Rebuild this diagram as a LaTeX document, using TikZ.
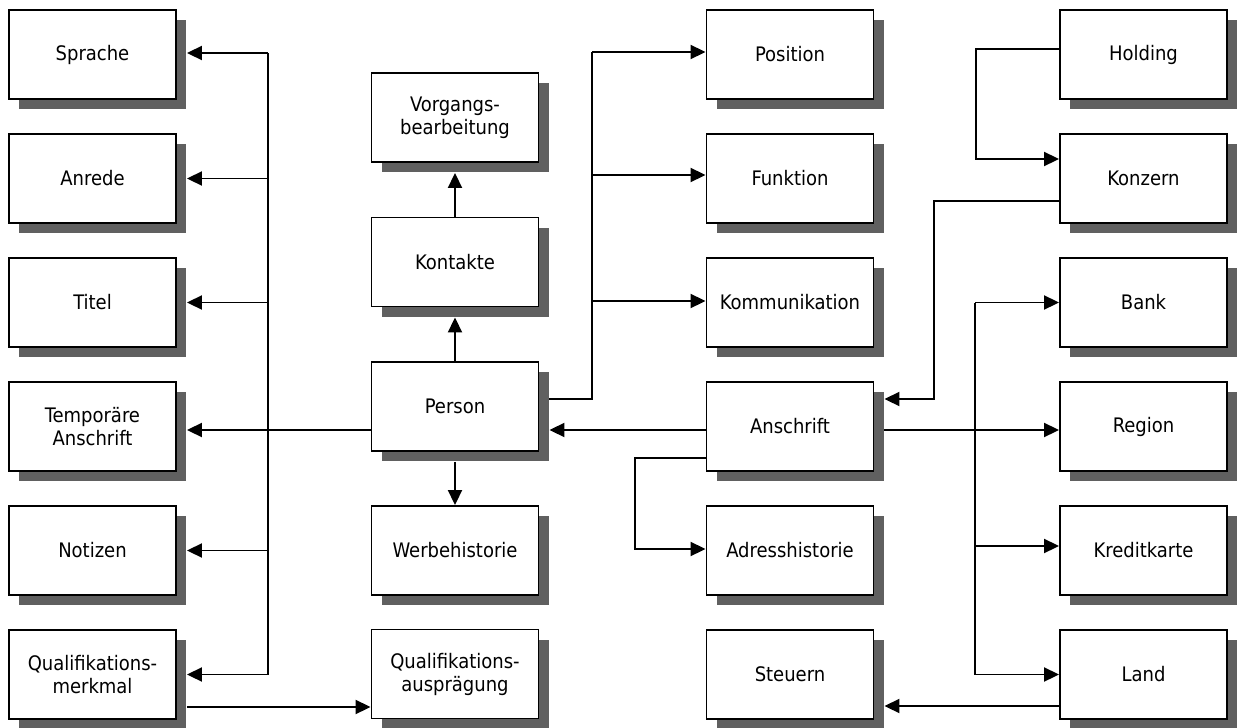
\documentclass[tikz,border=0pt]{standalone}
\usepackage{fontspec}
\setmainfont{DejaVu Sans Condensed}
\usetikzlibrary{arrows.meta,calc,shadows}
\definecolor{shadowgray}{RGB}{96,96,96}
\tikzset{
  ent/.style={draw, line width=1.9pt, fill=white, minimum width=167pt, minimum height=89pt,
    inner sep=0pt, align=center, font=\fontsize{20}{23}\selectfont,
    general shadow={fill=shadowgray, shadow xshift=10pt, shadow yshift=-10pt}},
  conn/.style={line width=1.9pt},
  arr/.style={conn, -{Triangle[length=15pt,width=14pt]}},
}
\begin{document}
\begin{tikzpicture}[x=1pt,y=-1pt]
\useasboundingbox (0,0) rectangle (1240,728);
% left column
\node[ent] (sprache) at (92.5,54.5) {Sprache};
\node[ent] (anrede)  at (92.5,178.5) {Anrede};
\node[ent] (titel)   at (92.5,302.5) {Titel};
\node[ent] (temp)    at (92.5,426.5) {Temporäre\\Anschrift};
\node[ent] (notizen) at (92.5,550.5) {Notizen};
\node[ent] (qm)      at (92.5,674.5) {Qualifikations-\\merkmal};
% centre column
\node[ent] (vorgang)  at (455,117.5) {Vorgangs-\\bearbeitung};
\node[ent] (kontakte) at (455,262) {Kontakte};
\node[ent] (person)   at (455,406.5) {Person};
\node[ent] (werbe)    at (455,550.5) {Werbehistorie};
\node[ent] (qa)       at (455,674) {Qualifikations-\\ausprägung};
% third column
\node[ent] (position)  at (790,54.5) {Position};
\node[ent] (funktion)  at (790,178.5) {Funktion};
\node[ent] (komm)      at (790,302.5) {Kommunikation};
\node[ent] (anschrift) at (790,426.5) {Anschrift};
\node[ent] (adress)    at (790,550.5) {Adresshistorie};
\node[ent] (steuern)   at (790,674.5) {Steuern};
% right column
\node[ent] (holding) at (1143.5,54.5) {Holding};
\node[ent] (konzern) at (1143.5,178.5) {Konzern};
\node[ent] (bank)    at (1143.5,302.5) {Bank};
\node[ent] (region)  at (1143.5,426.5) {Region};
\node[ent] (kredit)  at (1143.5,550.5) {Kreditkarte};
\node[ent] (land)    at (1143.5,674.5) {Land};

% ---- left bus from Person
\coordinate (lbus) at (268,0);
\coordinate (spR) at ($(sprache.east)+(10,-1.5)$);
\coordinate (anR) at ($(anrede.east)+(10,0)$);
\coordinate (tiR) at ($(titel.east)+(10,0)$);
\coordinate (teR) at ($(temp.east)+(10,3.5)$);
\coordinate (noR) at ($(notizen.east)+(10,0)$);
\coordinate (qmR) at ($(qm.east)+(10,0)$);
\coordinate (peL) at ($(person.west)+(0,23.5)$);
\draw[conn] (spR -| lbus) -- (qmR -| lbus);
\draw[arr] (peL) -- (teR);
\draw[arr] (spR -| lbus) -- (spR);
\draw[arr] (anR -| lbus) -- (anR);
\draw[arr] (tiR -| lbus) -- (tiR);
\draw[arr] (noR -| lbus) -- (noR);
\draw[arr] (qmR -| lbus) -- (qmR);

% ---- Person to Kontakte, Vorgang, Werbehistorie
\draw[arr] (person.north) -- ($(kontakte.south)+(0,10)$);
\draw[arr] (kontakte.north) -- ($(vorgang.south)+(0,10)$);
\draw[arr] ($(person.south)+(0,10)$) -- (werbe.north);

% ---- Person right bus
\coordinate (peR) at ($(person.east)+(10,-7.5)$);
\coordinate (rbus) at (592,0);
\coordinate (poL) at ($(position.west)+(0,-2.5)$);
\coordinate (fuL) at ($(funktion.west)+(0,-3.5)$);
\coordinate (koL) at ($(komm.west)+(0,-1.5)$);
\draw[conn] (peR) -- (peR -| rbus) -- (poL -| rbus);
\draw[arr] (poL -| rbus) -- (poL);
\draw[arr] (fuL -| rbus) -- (fuL);
\draw[arr] (koL -| rbus) -- (koL);

% ---- Anschrift connections
\coordinate (anP) at ($(anschrift.west)+(0,3.5)$);
\coordinate (peRs) at ($(person.east)+(10,0)$);
\draw[arr] (anP) -- (anP -| peRs);
\coordinate (anA) at ($(anschrift.west)+(0,31.5)$);
\coordinate (abus) at (635,0);
\coordinate (adL) at ($(adress.west)+(0,-1.5)$);
\draw[arr] (anA) -- (anA -| abus) |- (adL);
\coordinate (anRs) at ($(anschrift.east)+(10,3.5)$);
\draw[arr] (anRs) -- (anRs -| region.west);

% ---- Bank bus
\coordinate (bbus) at (975,0);
\coordinate (krL) at ($(kredit.west)+(0,-4.5)$);
\draw[conn] (bank.west -| bbus) -- (land.west -| bbus);
\draw[arr] (bank.west -| bbus) -- (bank.west);
\draw[arr] (krL -| bbus) -- (krL);
\draw[arr] (land.west -| bbus) -- (land.west);

% ---- Holding -> Konzern
\coordinate (hoL) at ($(holding.west)+(0,-5.5)$);
\coordinate (hbus) at (976,0);
\coordinate (kzIn) at ($(konzern.west)+(0,-19.5)$);
\draw[arr] (hoL) -- (hoL -| hbus) |- (kzIn);

% ---- Konzern -> Anschrift
\coordinate (kzOut) at ($(konzern.west)+(0,22.5)$);
\coordinate (kbus) at (934,0);
\coordinate (anIn) at ($(anschrift.east)+(10,-27.5)$);
\draw[arr] (kzOut) -- (kzOut -| kbus) |- (anIn);

% ---- Land -> Steuern
\coordinate (laOut) at ($(land.west)+(0,31.5)$);
\coordinate (stR) at ($(steuern.east)+(10,0)$);
\draw[arr] (laOut) -- (laOut -| stR);

% ---- Qualifikationsmerkmal -> Qualifikationsauspraegung
\coordinate (qmOut) at ($(qm.east)+(10,32.5)$);
\draw[arr] (qmOut) -- (qmOut -| qa.west);
\end{tikzpicture}
\end{document}
